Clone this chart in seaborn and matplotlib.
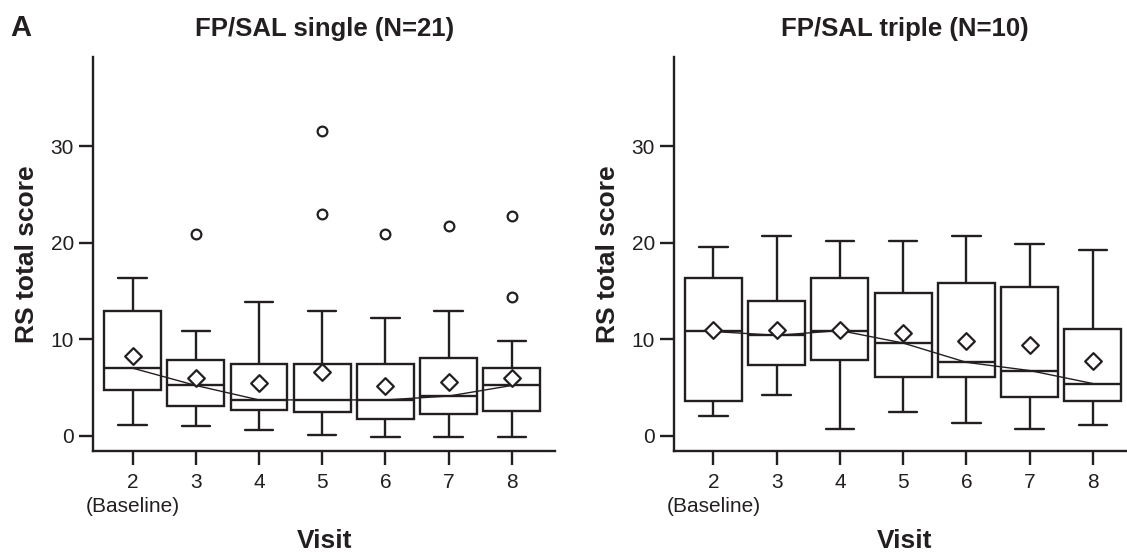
import numpy as np
import pandas as pd
import seaborn as sns
import matplotlib.pyplot as plt

visits = ["2", "3", "4", "5", "6", "7", "8"]
tick_labels = ["2\n(Baseline)", "3", "4", "5", "6", "7", "8"]

# FP/SAL single (N=21): box summary per visit
single_low = [1.1, 0.95, 0.55, 0.1, -0.2, -0.2, -0.2]
single_q1 = [4.7, 3.1, 2.65, 2.4, 1.7, 2.2, 2.6]
single_med = [7.0, 5.2, 3.7, 3.7, 3.7, 4.1, 5.2]
single_q3 = [12.9, 7.8, 7.4, 7.4, 7.4, 8.1, 7.0]
single_high = [16.4, 10.9, 13.9, 12.9, 12.25, 12.9, 9.8]
single_mean = [8.3, 6.0, 5.5, 6.6, 5.1, 5.6, 6.0]
single_out_visit = ["3", "5", "5", "6", "7", "8", "8"]
single_out_value = [20.9, 31.6, 23.0, 20.9, 21.7, 22.8, 14.4]

# FP/SAL triple (N=10)
triple_low = [2.0, 4.25, 0.7, 2.4, 1.3, 0.7, 1.1]
triple_q1 = [3.6, 7.3, 7.85, 6.1, 6.1, 4.0, 3.6]
triple_med = [10.8, 10.4, 10.9, 9.6, 7.6, 6.75, 5.4]
triple_q3 = [16.4, 14.0, 16.4, 14.8, 15.85, 15.4, 11.1]
triple_high = [19.6, 20.7, 20.2, 20.2, 20.7, 19.9, 19.3]
triple_mean = [11.0, 11.0, 11.0, 10.65, 9.85, 9.35, 7.7]
triple_out_visit = []
triple_out_value = []

INK = "#231f20"

sns.set_style("ticks")
plt.rcParams["font.family"] = ["Liberation Sans", "DejaVu Sans"]


def draw_panel(ax, title, low, q1, med, q3, high, mean, out_visit, out_value):
    # five values per visit -> quartiles land exactly on q1/med/q3
    rows = []
    for i, v in enumerate(visits):
        for val in (low[i], q1[i], med[i], q3[i], high[i]):
            rows.append({"visit": v, "score": val})
    box_df = pd.DataFrame(rows)

    sns.boxplot(data=box_df, x="visit", y="score", order=visits, whis=np.inf,
                width=0.9, color="white", saturation=1, linecolor=INK,
                linewidth=1.7, showfliers=False, ax=ax)

    sns.pointplot(x=visits, y=med, order=visits, color=INK, markers="",
                  linestyles="-", linewidth=1.0, errorbar=None, ax=ax)

    sns.stripplot(x=visits, y=mean, order=visits, jitter=False, marker="D",
                  size=8.5, color="white", edgecolor=INK, linewidth=1.6,
                  ax=ax, zorder=5)

    if out_value:
        sns.stripplot(x=out_visit, y=out_value, order=visits, jitter=False,
                      marker="o", size=7, color="white", edgecolor=INK,
                      linewidth=1.6, ax=ax, zorder=5)

    ax.set_xlim(-0.62, 6.68)
    ax.set_ylim(-1.6, 39.3)
    ax.set_yticks([0, 10, 20, 30])
    ax.set_xticks(range(len(visits)))
    ax.set_xticklabels(tick_labels)
    ax.tick_params(axis="both", length=10, width=1.7, color=INK,
                   labelsize=15, labelcolor=INK)
    ax.tick_params(axis="x", pad=6)
    ax.tick_params(axis="y", pad=4)
    for lab in ax.get_xticklabels():
        lab.set_multialignment("center")
        lab.set_linespacing(1.35)
    for s in ["left", "bottom"]:
        ax.spines[s].set_linewidth(1.7)
        ax.spines[s].set_color(INK)
    sns.despine(ax=ax)

    ax.set_title(title, fontsize=18.5, fontweight="bold", color=INK, pad=15)
    ax.set_xlabel("Visit", fontsize=19, fontweight="bold", color=INK, labelpad=9)
    ax.set_ylabel("RS total score", fontsize=19, fontweight="bold", color=INK,
                  labelpad=8)


fig = plt.figure(figsize=(11.27, 5.52), dpi=100)
ax1 = fig.add_axes([0.0828, 0.183, 0.4095, 0.714])
ax2 = fig.add_axes([0.5983, 0.183, 0.4095, 0.714])

draw_panel(ax1, "FP/SAL single (N=21)", single_low, single_q1, single_med,
           single_q3, single_high, single_mean, single_out_visit, single_out_value)
draw_panel(ax2, "FP/SAL triple (N=10)", triple_low, triple_q1, triple_med,
           triple_q3, triple_high, triple_mean, triple_out_visit, triple_out_value)

fig.text(0.009, 0.95, "A", fontsize=21, fontweight="bold", color=INK, va="center")

fig.savefig("out.png", dpi=100)
